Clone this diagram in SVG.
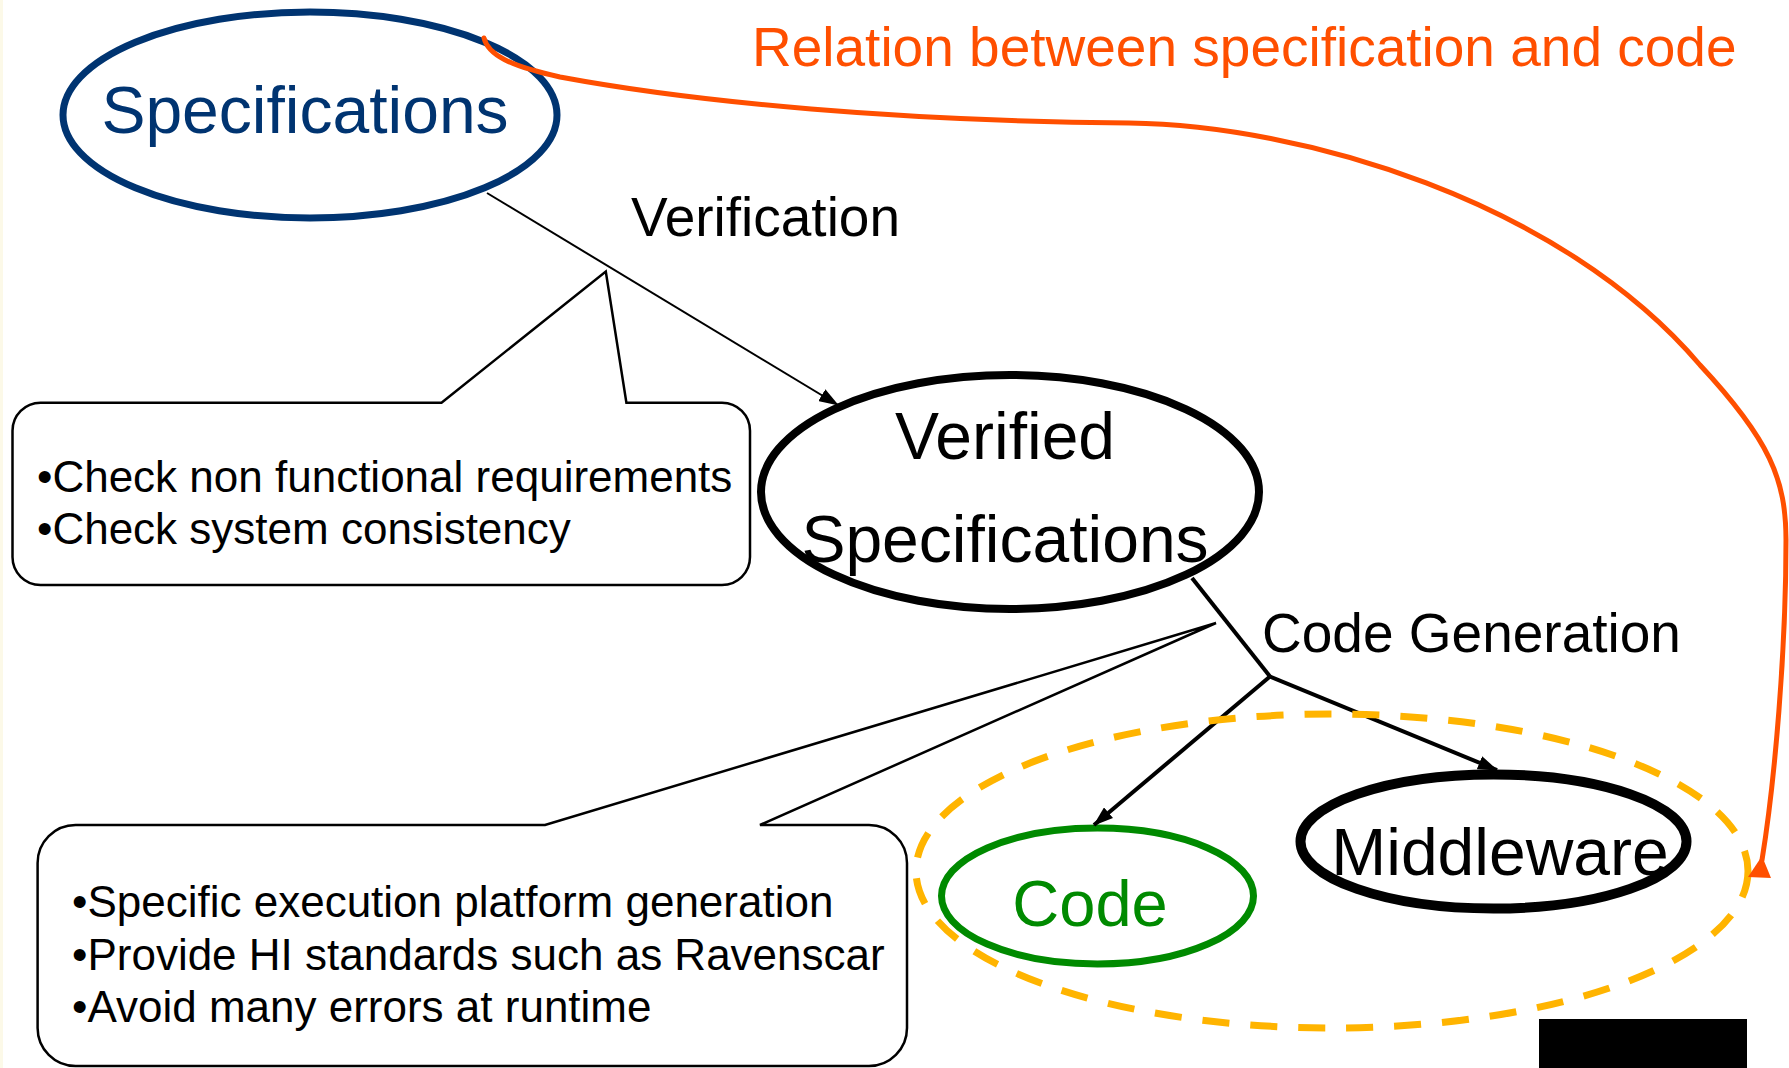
<svg xmlns="http://www.w3.org/2000/svg" width="1789" height="1068" viewBox="0 0 1789 1068">
  <style>
    .txt { font-family: "Liberation Sans", Arial, sans-serif; fill: #000; }
    .node { fill: #fff; stroke: #000; }
    .callout { fill: #fff; stroke: #000; stroke-width: 2.5; stroke-linejoin: miter; }
    .edge { fill: none; stroke: #000; }
  </style>
  <defs>
    <marker id="arrowhead" viewBox="0 0 20 14" refX="19" refY="7" markerWidth="20" markerHeight="14" markerUnits="userSpaceOnUse" orient="auto">
      <path d="M0,0 L20,7 L0,14 z" fill="#000"/>
    </marker>
  </defs>

  <rect x="0" y="0" width="1789" height="1068" fill="#fff"/>
  <rect x="0" y="0" width="3" height="1068" fill="#fcf9e8"/>

  <!-- Verification callout -->
  <g id="callout-verification">
    <path class="callout" d="M40.5,402.7 H441.5 L605.8,271.5 L626.4,402.7 H722 A28,28 0 0 1 750,430.7 V557 A28,28 0 0 1 722,585 H40.5 A28,28 0 0 1 12.5,557 V430.7 A28,28 0 0 1 40.5,402.7 Z"/>
    <text class="txt" font-size="44" x="37" y="492">•Check non functional requirements</text>
    <text class="txt" font-size="44" x="37" y="544">•Check system consistency</text>
  </g>

  <!-- Code generation callout -->
  <g id="callout-codegen">
    <path class="callout" d="M75.6,825 H545 L1216,623 L760,825 H869 A38,38 0 0 1 907,863 V1028 A38,38 0 0 1 869,1066 H75.6 A38,38 0 0 1 37.6,1028 V863 A38,38 0 0 1 75.6,825 Z"/>
    <text class="txt" font-size="44" x="72" y="917">•Specific execution platform generation</text>
    <text class="txt" font-size="44" x="72" y="970">•Provide HI standards such as Ravenscar</text>
    <text class="txt" font-size="44" x="72" y="1022">•Avoid many errors at runtime</text>
  </g>

  <!-- Nodes -->
  <g id="node-specifications">
    <ellipse cx="310" cy="115" rx="247" ry="103" fill="#fff" stroke="#003471" stroke-width="7"/>
    <text class="txt" font-size="66" x="305" y="133" text-anchor="middle" style="fill:#003471">Specifications</text>
  </g>

  <g id="node-verified">
    <ellipse class="node" cx="1010" cy="492" rx="249" ry="117" stroke-width="8"/>
    <text class="txt" font-size="66" x="1005" y="459" text-anchor="middle">Verified</text>
    <text class="txt" font-size="66" x="1005" y="562" text-anchor="middle">Specifications</text>
  </g>

  <g id="node-code">
    <ellipse cx="1097.5" cy="896" rx="156" ry="68" fill="#fff" stroke="#008a00" stroke-width="7"/>
    <text class="txt" font-size="65" x="1090" y="926" text-anchor="middle" style="fill:#008a00">Code</text>
  </g>

  <g id="node-middleware">
    <ellipse class="node" cx="1493.5" cy="841.5" rx="193" ry="67" stroke-width="10"/>
    <text class="txt" font-size="66" x="1500" y="875" text-anchor="middle">Middleware</text>
  </g>

  <!-- Connectors -->
  <g id="connectors">
    <line class="edge" x1="487" y1="193" x2="838" y2="405" stroke-width="2" marker-end="url(#arrowhead)"/>
    <polyline class="edge" points="1192,578 1270,676.5" stroke-width="4"/>
    <line class="edge" x1="1270" y1="676.5" x2="1094" y2="825" stroke-width="4" marker-end="url(#arrowhead)"/>
    <line class="edge" x1="1270" y1="676.5" x2="1497" y2="770" stroke-width="4" marker-end="url(#arrowhead)"/>

    <!-- grouping of generated artefacts -->
    <ellipse cx="1332" cy="871" rx="416" ry="157" fill="none" stroke="#ffb400" stroke-width="7" stroke-dasharray="27 21"/>

    <!-- specification-to-code relation -->
    <path d="M484,38 C488,55 510,66 560,77 C700,103 900,121 1129,123 C1300,125 1560,200 1700,365 C1770,440 1786,480 1786,540 C1786,650 1775,780 1762,860" fill="none" stroke="#ff4f00" stroke-width="5" stroke-linecap="round"/>
    <path d="M1762,856 L1771,878 L1748,877 Z" fill="#ff4f00"/>
  </g>

  <!-- Labels -->
  <text class="txt" font-size="55" x="631" y="236">Verification</text>
  <text class="txt" font-size="55" x="1262" y="652">Code Generation</text>
  <text class="txt" font-size="55" x="752" y="66" style="fill:#ff4f00">Relation between specification and code</text>

  <rect x="1539" y="1019" width="208" height="49" fill="#000"/>
</svg>
